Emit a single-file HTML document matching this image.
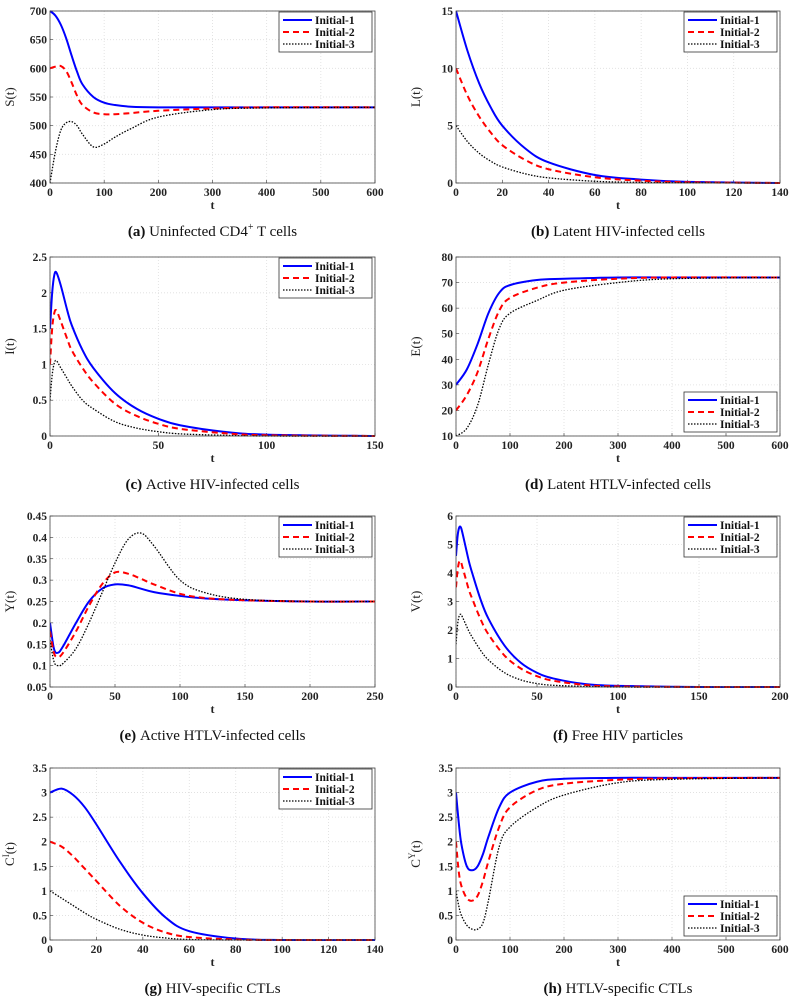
<!DOCTYPE html>
<html><head><meta charset="utf-8">
<style>
html,body{margin:0;padding:0;background:#fff;}
svg{display:block;}
text{font-family:"Liberation Serif",serif;}
.tick{font-size:11.5px;font-weight:bold;fill:#222;}
.cap{font-size:15px;fill:#111;}
</style></head>
<body>
<svg id="fig" width="797" height="1004" viewBox="0 0 797 1004" xmlns="http://www.w3.org/2000/svg"></svg>
<script>
// ---- data ----
const tA=[0,10,20,30,40,50,60,80,100,120,150,200,300,400,600];
const sA1=[700,692,676,652,622,594,572,550,540,536,533,532,532,532,532];
const sA2=[600,603,604,595,575,552,536,523,520,520,522,526,530,532,532];
const sA3=[400,455,492,505,507,500,485,463,468,480,495,515,528,531,532];

const tB=[0,5,10,15,20,30,40,60,80,100,140];
const sB1=[15,11.5,8.7,6.6,5,3,1.8,0.7,0.3,0.1,0];
const sB2=[10,7.6,5.8,4.4,3.3,2,1.2,0.5,0.2,0.07,0];
const sB3=[5,3.6,2.6,1.9,1.4,0.8,0.45,0.15,0.05,0.02,0];

const tC=[0,1,2,3,5,8,10,15,20,30,40,50,60,80,100,150];
const sC1=[1.5,2.0,2.25,2.28,2.1,1.75,1.55,1.2,0.95,0.6,0.38,0.24,0.15,0.06,0.02,0];
const sC2=[1.0,1.5,1.72,1.75,1.6,1.35,1.2,0.95,0.75,0.45,0.28,0.17,0.1,0.04,0.01,0];
const sC3=[0.5,0.85,1.02,1.05,0.95,0.8,0.7,0.5,0.38,0.2,0.11,0.06,0.03,0.01,0,0];

const tD=[0,20,40,60,80,100,150,200,300,400,600];
const sD1=[30,36,46,58,66,69,71,71.5,72,72,72];
const sD2=[20,26,35,48,59,64,68,70,71.5,72,72];
const sD3=[10,13,22,38,52,58,63,67,70,71.5,72];

const tE=[0,3,6,10,20,30,40,50,60,70,80,100,120,150,200,250];
const sE1=[0.2,0.14,0.13,0.145,0.2,0.25,0.28,0.29,0.288,0.28,0.272,0.263,0.257,0.253,0.25,0.25];
const sE2=[0.18,0.13,0.12,0.13,0.18,0.24,0.29,0.318,0.315,0.303,0.29,0.268,0.258,0.253,0.25,0.25];
const sE3=[0.16,0.11,0.1,0.105,0.14,0.2,0.27,0.34,0.395,0.41,0.38,0.3,0.27,0.255,0.25,0.25];

const tF=[0,1,2,3,4,6,8,10,15,20,30,40,50,60,80,100,150,200];
const sF1=[4.6,5.3,5.6,5.6,5.4,4.9,4.4,4.0,3.1,2.4,1.45,0.85,0.5,0.3,0.1,0.04,0,0];
const sF2=[3.5,4.1,4.4,4.4,4.2,3.8,3.4,3.1,2.4,1.85,1.1,0.65,0.38,0.22,0.07,0.02,0,0];
const sF3=[1.5,2.2,2.5,2.55,2.45,2.2,1.95,1.75,1.3,0.95,0.5,0.25,0.12,0.06,0.02,0,0,0];

const tG=[0,5,10,15,20,30,40,50,60,80,100,140];
const sG1=[3,3.08,2.95,2.7,2.35,1.6,0.95,0.45,0.18,0.03,0,0];
const sG2=[2,1.9,1.7,1.45,1.2,0.7,0.35,0.15,0.06,0.01,0,0];
const sG3=[1,0.85,0.7,0.55,0.42,0.22,0.1,0.04,0.01,0,0,0];

const tH=[0,5,10,20,30,40,50,60,80,100,150,200,300,400,600];
const sH1=[3,2.4,1.95,1.5,1.42,1.5,1.75,2.1,2.7,3.0,3.22,3.28,3.3,3.3,3.3];
const sH2=[2,1.4,1.1,0.85,0.8,0.9,1.2,1.6,2.3,2.7,3.05,3.18,3.26,3.29,3.3];
const sH3=[1,0.7,0.5,0.3,0.22,0.22,0.35,0.8,1.9,2.3,2.7,2.95,3.2,3.27,3.3];

const xtA=[0,100,200,300,400,500,600], ytA=[400,450,500,550,600,650,700];
const xtB=[0,20,40,60,80,100,120,140], ytB=[0,5,10,15];
const xtC=[0,50,100,150], ytC=[0,0.5,1,1.5,2,2.5];
const xtD=[0,100,200,300,400,500,600], ytD=[10,20,30,40,50,60,70,80];
const xtE=[0,50,100,150,200,250], ytE=[0.05,0.1,0.15,0.2,0.25,0.3,0.35,0.4,0.45];
const xtF=[0,50,100,150,200], ytF=[0,1,2,3,4,5,6];
const xtG=[0,20,40,60,80,100,120,140], ytG=[0,0.5,1,1.5,2,2.5,3,3.5];
const xtH=[0,100,200,300,400,500,600], ytH=[0,0.5,1,1.5,2,2.5,3,3.5];

const legendLabels=["Initial-1","Initial-2","Initial-3"];

// ---- drawing ----
const NS="http://www.w3.org/2000/svg";
const svg=document.getElementById('fig');
function mk(tag,attrs,parent){const e=document.createElementNS(NS,tag);for(const k in attrs)e.setAttribute(k,attrs[k]);(parent||svg).appendChild(e);return e;}
const styles=[{stroke:"#0000ff",w:2,dash:""},{stroke:"#ff0000",w:2,dash:"6,4"},{stroke:"#000",w:1.3,dash:"1.5,1.5"}];
const COLS=[[50,375],[456,780]];
const ROWS=[[11,183],[257,436],[516,687],[768,940]];

function fmt(v){return String(+v.toFixed(2));}
function smoothPath(pts){
  let d="M"+pts[0][0].toFixed(2)+","+pts[0][1].toFixed(2);
  for(let i=0;i<pts.length-1;i++){
    const p0=pts[i-1]||pts[i],p1=pts[i],p2=pts[i+1],p3=pts[i+2]||p2;
    const c1=[p1[0]+(p2[0]-p0[0])/6,p1[1]+(p2[1]-p0[1])/6];
    const c2=[p2[0]-(p3[0]-p1[0])/6,p2[1]-(p3[1]-p1[1])/6];
    d+=" C"+c1[0].toFixed(2)+","+c1[1].toFixed(2)+" "+c2[0].toFixed(2)+","+c2[1].toFixed(2)+" "+p2[0].toFixed(2)+","+p2[1].toFixed(2);
  }
  return d;
}
function panel(id,col,row,t,series,xt,yt,ylab,ysup,capB,capT,legBottom){
  const [x0,x1]=COLS[col],[y0,y1]=ROWS[row];
  const g=mk('g',{});
  
  
  const xmin=xt[0],xmax=xt[xt.length-1],ymin=yt[0],ymax=yt[yt.length-1];
  const X=v=>x0+(v-xmin)/(xmax-xmin)*(x1-x0);
  const Y=v=>y1-(v-ymin)/(ymax-ymin)*(y1-y0);
  mk('rect',{x:x0,y:y0,width:x1-x0,height:y1-y0,fill:"#fff"},g);
  const grid=mk('g',{stroke:"#ddd","stroke-width":0.8,"stroke-dasharray":"1,2"},g);
  
  
  xt.forEach(v=>mk('line',{x1:X(v),x2:X(v),y1:y0,y2:y1},grid));
  yt.forEach(v=>mk('line',{x1:x0,x2:x1,y1:Y(v),y2:Y(v)},grid));
  xt.forEach(v=>{const tx=mk('text',{x:X(v),y:y1+13,"text-anchor":"middle",class:"tick"},g);tx.textContent=fmt(v);
    
    mk('line',{x1:X(v),x2:X(v),y1:y1,y2:y1-3,stroke:"#333","stroke-width":0.6},g);});
  yt.forEach(v=>{const tx=mk('text',{x:x0-3,y:Y(v)+4,"text-anchor":"end",class:"tick"},g);tx.textContent=fmt(v);
    
    mk('line',{x1:x0,x2:x0+3,y1:Y(v),y2:Y(v),stroke:"#333","stroke-width":0.6},g);});
  const clip=mk('clipPath',{id:'clip'+id},g);
  mk('rect',{x:x0,y:y0-2,width:x1-x0,height:y1-y0+3},clip);
  series.forEach((s,i)=>{
    const pts=t.map((tv,k)=>[X(tv),Y(s[k])]);
    const p=mk('path',{d:smoothPath(pts),fill:"none",stroke:styles[i].stroke,"stroke-width":styles[i].w,"clip-path":"url(#clip"+id+")"},g);
    if(styles[i].dash)p.setAttribute('stroke-dasharray',styles[i].dash);
    
    
  });
  mk('rect',{x:x0,y:y0,width:x1-x0,height:y1-y0,fill:"none",stroke:"#444","stroke-width":0.8},g);
  const xl=mk('text',{x:(x0+x1)/2,y:y1+26,"text-anchor":"middle","font-size":"12","font-weight":"bold",fill:"#222"},g);
  xl.textContent="t";
  
  const yl=mk('text',{transform:`translate(${x0-36},${(y0+y1)/2}) rotate(-90)`,"text-anchor":"middle","font-size":"13",fill:"#222"},g);
  
  if(ysup){const a=mk('tspan',{},yl);a.textContent="C";const b=mk('tspan',{dy:"-5","font-size":"9"},yl);b.textContent=ysup;const c=mk('tspan',{dy:"5"},yl);c.textContent="(t)";}
  else yl.textContent=ylab;
  const lw=93,lh=40;const lx=x1-lw-3;const ly=legBottom?y1-lh-4:y0+1;
  const lg=mk('g',{},g);
  
  mk('rect',{x:lx,y:ly,width:lw,height:lh,fill:"#fff",stroke:"#333","stroke-width":0.8},lg);
  legendLabels.forEach((lab,i)=>{
    const yy=ly+8+i*12;
    const ln=mk('line',{x1:lx+4,x2:lx+33,y1:yy,y2:yy,stroke:styles[i].stroke,"stroke-width":styles[i].w},lg);
    if(styles[i].dash)ln.setAttribute('stroke-dasharray',styles[i].dash);
    const tx=mk('text',{x:lx+36,y:yy+4,"font-size":"11.5","font-weight":"bold",fill:"#111"},lg);tx.textContent=lab;
    
  });
  const cp=mk('text',{x:(x0+x1)/2,y:y1+53,"text-anchor":"middle",class:"cap"},svg);
  
  const b=mk('tspan',{"font-weight":"bold"},cp);b.textContent=capB+" ";
  if(capT.indexOf("^")>=0){const [p1,rest]=capT.split("^");const a=mk('tspan',{},cp);a.textContent=p1;
    const s=mk('tspan',{dy:"-6","font-size":"10"},cp);s.textContent="+";const r=mk('tspan',{dy:"6"},cp);r.textContent=rest;}
  else{const a=mk('tspan',{},cp);a.textContent=capT;}
}
panel('a',0,0,tA,[sA1,sA2,sA3],xtA,ytA,"S(t)",null,"(a)","Uninfected CD4^ T cells",false);
panel('b',1,0,tB,[sB1,sB2,sB3],xtB,ytB,"L(t)",null,"(b)","Latent HIV-infected cells",false);
panel('c',0,1,tC,[sC1,sC2,sC3],xtC,ytC,"I(t)",null,"(c)","Active HIV-infected cells",false);
panel('d',1,1,tD,[sD1,sD2,sD3],xtD,ytD,"E(t)",null,"(d)","Latent HTLV-infected cells",true);
panel('e',0,2,tE,[sE1,sE2,sE3],xtE,ytE,"Y(t)",null,"(e)","Active HTLV-infected cells",false);
panel('f',1,2,tF,[sF1,sF2,sF3],xtF,ytF,"V(t)",null,"(f)","Free HIV particles",false);
panel('g',0,3,tG,[sG1,sG2,sG3],xtG,ytG,"",'I',"(g)","HIV-specific CTLs",false);
panel('h',1,3,tH,[sH1,sH2,sH3],xtH,ytH,"",'Y',"(h)","HTLV-specific CTLs",true);
</script>
</body></html>
